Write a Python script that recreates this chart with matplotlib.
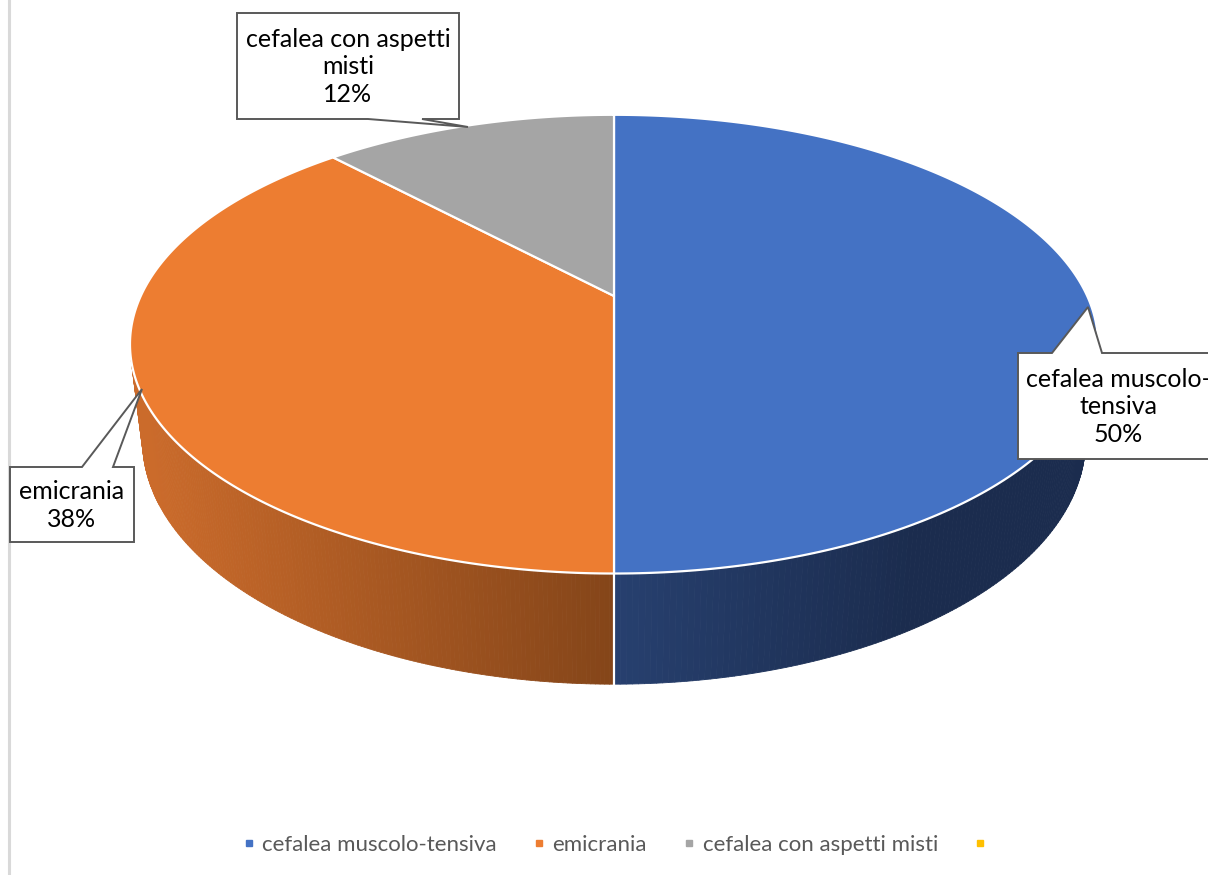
import numpy as np
import matplotlib
matplotlib.use('Agg')
import matplotlib.pyplot as plt
import matplotlib.colors as mcolors
from matplotlib.patches import Polygon
from matplotlib.collections import PolyCollection
from matplotlib.lines import Line2D

plt.rcParams['font.family'] = ['Lato', 'DejaVu Sans']

# data
categories = ['cefalea muscolo-tensiva', 'emicrania', 'cefalea con aspetti misti', '']
values = [50, 38, 12, 0]
top_colors = ['#4472C4', '#ED7D31', '#A5A5A5', '#FFC000']
# side wall shading: (colour near the middle, colour at the outer edge)
side_colors = [('#27406F', '#1B2C4E'), ('#844519', '#CB6B2B'), ('#6E6E6E', '#8A8A8A'), ('#B08400', '#C99A00')]

# callout boxes (layout, pixel coords): box x0, x1, y0, y1, pointer base x0, x1, tip
callouts = [
    dict(box=(1018, 1218, 353, 459), base=(1052, 1102), tip=(1088, 307), side='top',
         text='cefalea muscolo-\ntensiva\n50%'),
    dict(box=(10, 134, 467, 542), base=(82, 113), tip=(142, 389), side='top',
         text='emicrania\n38%'),
    dict(box=(237, 459, 13, 119), base=(422, 368), tip=(468, 127), side='bottom',
         text='cefalea con aspetti\nmisti\n12%'),
]

# 3d perspective view of the pie
CX, CY = 614.0, 296.0
F = 1997.0
D = 4.22
alpha = np.radians(27.6)
s, k = np.sin(alpha), np.cos(alpha)
H = 0.232


def proj(t, y):
    X = np.cos(t)
    Z = np.sin(t)
    yc = y * k + Z * s
    zc = D + Z * k - y * s
    return CX + F * X / zc, CY - F * yc / zc


def mix(c1, c2, f):
    a = np.array(mcolors.to_rgb(c1))
    b = np.array(mcolors.to_rgb(c2))
    return tuple(a + (b - a) * f)


fig = plt.figure(figsize=(12.08, 8.75), dpi=100)
ax = fig.add_axes([0, 0, 1, 1])
ax.set_xlim(0, 1208)
ax.set_ylim(875, 0)
ax.axis('off')

total = float(sum(values))
starts = []
t = np.pi / 2
for v in values:
    t1 = t - 2 * np.pi * v / total
    starts.append((t, t1))
    t = t1

# walls
limit = -1.0 / (D * k)
for i, (t0, t1) in enumerate(starts):
    if t0 == t1:
        continue
    ts = np.linspace(t0, t1, 300)
    quads, cols = [], []
    for ta, tb in zip(ts[:-1], ts[1:]):
        tm = (ta + tb) / 2
        if np.sin(tm) >= limit:
            continue
        pa0 = proj(ta, 0); pb0 = proj(tb, 0)
        pa1 = proj(ta, -H); pb1 = proj(tb, -H)
        quads.append([pa0, pb0, pb1, pa1])
        sx = (pa0[0] + pb0[0]) / 2
        if sx >= CX:
            f = np.clip((sx - CX) / 300.0, 0, 1)
        else:
            f = np.clip((CX - sx) / 470.0, 0, 1)
        cols.append(mix(side_colors[i][0], side_colors[i][1], f))
    if quads:
        ax.add_collection(PolyCollection(quads, facecolors=cols, edgecolors=cols,
                                         linewidths=0.6, zorder=2))

# white seam between the front walls
x0, y0 = proj(-np.pi / 2, 0)
x1, y1 = proj(-np.pi / 2, -H)
ax.plot([x0, x1], [y0, y1], color='white', lw=1.6, zorder=3)

# top faces
for i, (t0, t1) in enumerate(starts):
    if t0 == t1:
        continue
    ts = np.linspace(t0, t1, 300)
    xs, ys = proj(ts, 0)
    pts = [(CX, CY)] + list(zip(xs, ys))
    ax.add_patch(Polygon(pts, closed=True, facecolor=top_colors[i], edgecolor='white',
                         lw=1.6, zorder=4, joinstyle='round'))

# callouts
for c in callouts:
    bx0, bx1, by0, by1 = c['box']
    p0, p1 = c['base']
    if c['side'] == 'top':
        pts = [(bx0, by0), (p0, by0), c['tip'], (p1, by0), (bx1, by0), (bx1, by1), (bx0, by1)]
    else:
        pts = [(bx0, by0), (bx1, by0), (bx1, by1), (p0, by1), c['tip'], (p1, by1), (bx0, by1)]
    ax.add_patch(Polygon(pts, closed=True, facecolor='white', edgecolor='#595959',
                         lw=1.4, zorder=6))
    ax.text((bx0 + bx1) / 2, (by0 + by1) / 2 + 1, c['text'], ha='center', va='center',
            fontsize=18, color='#000000', linespacing=1.25, zorder=7)

# left border
ax.plot([9, 9], [0, 875], color='#D9D9D9', lw=2.2, zorder=1)

handles = [Line2D([], [], marker='s', linestyle='', color=c, markersize=5) for c in top_colors]
fig.legend(handles, categories, loc='center', bbox_to_anchor=(0.512, 0.034), ncol=4,
           frameon=False, fontsize=16, handlelength=0.5, handletextpad=0.35,
           columnspacing=1.65, labelcolor='#595959')

fig.savefig('out.png', dpi=100)
